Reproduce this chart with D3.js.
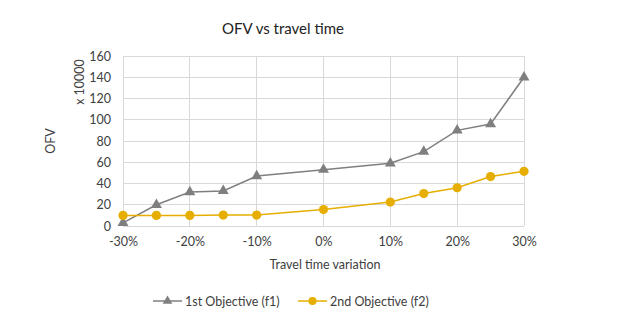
<!DOCTYPE html>
<html><head><meta charset="utf-8">
<script src="https://cdn.jsdelivr.net/npm/d3@7"></script>
<style>body{margin:0;background:#fff}svg{display:block}text{font-family:Lato,"Open Sans",sans-serif}</style>
</head><body><div id="chart"></div>
<script>
const variation = [-30, -25, -20, -15, -10, 0, 10, 15, 20, 25, 30];
const f1 = [3, 20, 32, 33, 47, 53, 59, 70, 90, 96, 140];
const f2 = [10, 10, 10, 10.3, 10.3, 15.5, 22.5, 30.5, 36, 46.5, 51.5];
const xTicks = [-30, -20, -10, 0, 10, 20, 30];
const yTicks = [0, 20, 40, 60, 80, 100, 120, 140, 160];
const seriesNames = ["1st Objective (f1)", "2nd Objective (f2)"];
const colors = ["#7f7f7f", "#e6ae00"];

const W = 636, H = 328;
const svg = d3.select("#chart").append("svg").attr("width", W).attr("height", H);
const x = d3.scaleLinear().domain([-30, 30]).range([123, 524]);
const y = d3.scaleLinear().domain([0, 160]).range([226, 56]);
const grid = "#d9d9d9", txt = "#404040";

// gridlines
svg.append("g").selectAll("line").data(yTicks).join("line")
  .attr("x1", x(-30)).attr("x2", x(30)).attr("y1", d => y(d)).attr("y2", d => y(d))
  .attr("stroke", grid).attr("stroke-width", 1).attr("shape-rendering", "crispEdges");
svg.append("g").selectAll("line").data(xTicks).join("line")
  .attr("x1", d => x(d)).attr("x2", d => x(d)).attr("y1", y(0)).attr("y2", y(160))
  .attr("stroke", grid).attr("stroke-width", 1).attr("shape-rendering", "crispEdges");

// axes
const yAxis = svg.append("g").attr("transform", `translate(${x(-30)},0)`)
  .call(d3.axisLeft(y).tickValues(yTicks).tickSize(0).tickPadding(12));
const xAxis = svg.append("g").attr("transform", `translate(0,${y(0)})`)
  .call(d3.axisBottom(x).tickValues(xTicks).tickSize(0).tickPadding(11).tickFormat(d => d + "%"));
[yAxis, xAxis].forEach(a => {
  a.select(".domain").remove();
  a.selectAll("text").attr("fill", txt).style("font-size", "12.5px").style("font-family", "Lato");
});

// lines
const data = [f1, f2];
const line = d3.line().x((d, i) => x(variation[i])).y(d => y(d));
data.forEach((s, k) => {
  svg.append("path").datum(s).attr("d", line).attr("fill", "none")
    .attr("stroke", colors[k]).attr("stroke-width", 1.5);
});
// markers
svg.append("g").selectAll("path").data(f1).join("path")
  .attr("d", d3.symbol(d3.symbolTriangle, 52))
  .attr("transform", (d, i) => `translate(${x(variation[i])},${y(d)})`)
  .attr("fill", colors[0]);
svg.append("g").selectAll("circle").data(f2).join("circle")
  .attr("cx", (d, i) => x(variation[i])).attr("cy", d => y(d)).attr("r", 4.6)
  .attr("fill", colors[1]);

// titles
svg.append("text").attr("x", 283).attr("y", 34).attr("text-anchor", "middle")
  .attr("fill", "#222").style("font-size", "15px").text("OFV vs travel time");
svg.append("text").attr("x", 325).attr("y", 269).attr("text-anchor", "middle")
  .attr("fill", txt).style("font-size", "12.5px").text("Travel time variation");
svg.append("text").attr("transform", "translate(55,141) rotate(-90)").attr("text-anchor", "middle")
  .attr("fill", txt).style("font-size", "12.5px").text("OFV");
svg.append("text").attr("transform", "translate(84,82) rotate(-90)").attr("text-anchor", "middle")
  .attr("fill", txt).style("font-size", "12.5px").text("x 10000");

// legend
const leg = [{x0: 153, tx: 185}, {x0: 298, tx: 330}];
leg.forEach((l, k) => {
  const g = svg.append("g");
  g.append("line").attr("x1", l.x0).attr("x2", l.x0 + 29).attr("y1", 301).attr("y2", 301)
    .attr("stroke", colors[k]).attr("stroke-width", 1.5);
  if (k === 0) g.append("path").attr("d", d3.symbol(d3.symbolTriangle, 40))
    .attr("transform", `translate(${l.x0 + 14.5},301)`).attr("fill", colors[k]);
  else g.append("circle").attr("cx", l.x0 + 14.5).attr("cy", 301).attr("r", 4).attr("fill", colors[k]);
  g.append("text").attr("x", l.tx).attr("y", 305.5).attr("fill", txt)
    .style("font-size", "12.5px").text(seriesNames[k]);
});
</script></body></html>
